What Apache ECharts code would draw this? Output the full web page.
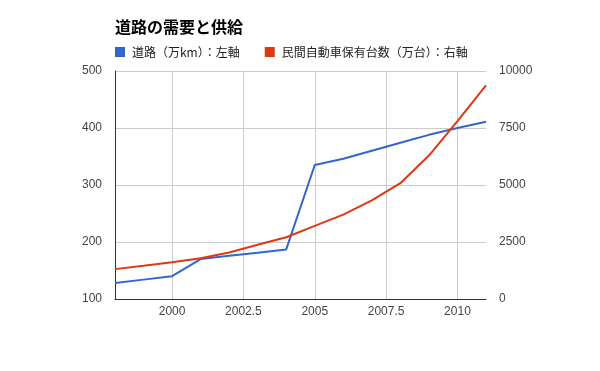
<!DOCTYPE html>
<html><head><meta charset="utf-8">
<script src="https://cdn.jsdelivr.net/npm/echarts@6/dist/echarts.min.js"></script>
<style>html,body{margin:0;padding:0;background:#fff}#c{width:600px;height:371px}</style>
</head><body><div id="c"></div>
<script>
const years = [1998, 1999, 2000, 2001, 2002, 2003, 2004, 2005, 2006, 2007, 2008, 2009, 2010, 2011];
const roads = [128, 134, 140, 170, 176, 181, 187, 335, 346, 360, 374, 388, 400, 411];
const cars = [1310, 1460, 1614, 1790, 2040, 2380, 2710, 3210, 3700, 4330, 5080, 6290, 7800, 9370];
const xTicks = [2000, 2002.5, 2005, 2007.5, 2010];
const seriesNames = ['道路（万km）：左軸', '民間自動車保有台数（万台）：右軸'];
const titleText = '道路の需要と供給';

const font = 'Arial, "Liberation Sans", "Noto Sans CJK JP", sans-serif';
const jpFont = '"Noto Sans CJK JP", sans-serif';
const chart = echarts.init(document.getElementById('c'), null, {renderer: 'canvas'});
chart.setOption({
  animation: false,
  textStyle: {fontFamily: font},
  title: {
    text: titleText, left: 110, top: 14,
    textStyle: {fontSize: 16, fontWeight: 'bold', color: '#000', fontFamily: jpFont}
  },
  legend: {
    left: 110, top: 41, itemWidth: 10, itemHeight: 10, itemGap: 25, icon: 'rect',
    data: seriesNames,
    textStyle: {fontSize: 12, color: '#222', fontFamily: jpFont, padding: [0, 0, 0, 2]}
  },
  grid: {left: 115, right: 114, top: 71, bottom: 72, containLabel: false},
  xAxis: {
    type: 'value', min: 1998, max: 2011,
    axisLine: {show: true, onZero: false, lineStyle: {color: '#333', width: 1}},
    axisTick: {show: false, customValues: xTicks},
    axisLabel: {customValues: xTicks, color: '#444', fontSize: 12, margin: 7,
      formatter: v => String(v)},
    splitLine: {show: true, lineStyle: {color: '#ccc', width: 1}}
  },
  yAxis: [
    {
      type: 'value', min: 100, max: 500, interval: 100, position: 'left',
      axisLine: {show: true, lineStyle: {color: '#333', width: 1}},
      axisTick: {show: false},
      axisLabel: {color: '#444', fontSize: 12, margin: 13, formatter: v => String(v)},
      splitLine: {show: true, lineStyle: {color: '#ccc', width: 1}}
    },
    {
      type: 'value', min: 0, max: 10000, interval: 2500, position: 'right',
      axisLine: {show: false},
      axisTick: {show: false},
      axisLabel: {color: '#444', fontSize: 12, margin: 13, formatter: v => String(v)},
      splitLine: {show: false}
    }
  ],
  series: [
    {
      name: seriesNames[0], type: 'line', yAxisIndex: 0, showSymbol: false, symbol: 'none',
      data: years.map((y, i) => [y, roads[i]]),
      lineStyle: {color: '#3366cc', width: 2}, itemStyle: {color: '#3366cc'}
    },
    {
      name: seriesNames[1], type: 'line', yAxisIndex: 1, showSymbol: false, symbol: 'none',
      data: years.map((y, i) => [y, cars[i]]),
      lineStyle: {color: '#dc3912', width: 2}, itemStyle: {color: '#dc3912'}
    }
  ]
});
</script></body></html>
